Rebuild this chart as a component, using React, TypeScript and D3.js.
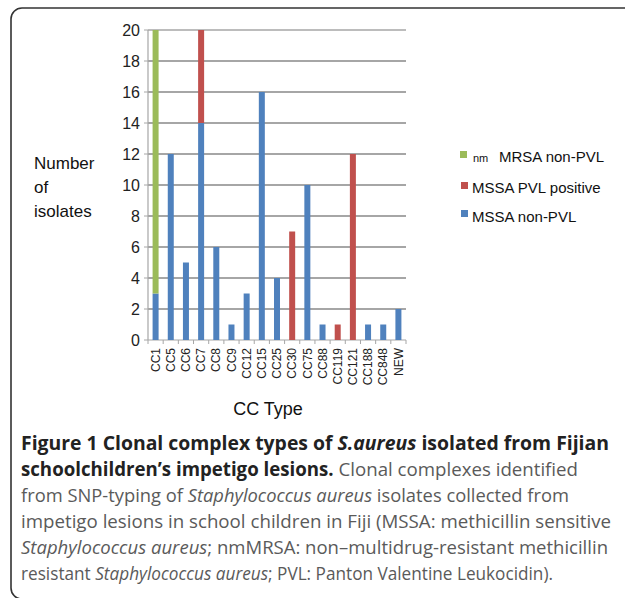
import React from 'react';
import * as d3 from 'd3';

const categories = ['CC1', 'CC5', 'CC6', 'CC7', 'CC8', 'CC9', 'CC12', 'CC15', 'CC25', 'CC30', 'CC75', 'CC88', 'CC119', 'CC121', 'CC188', 'CC848', 'NEW'];
const mssaNonPvl = [3, 12, 5, 14, 6, 1, 3, 16, 4, 0, 10, 1, 0, 0, 1, 1, 2];
const mssaPvlPositive = [0, 0, 0, 6, 0, 0, 0, 0, 0, 7, 0, 0, 1, 12, 0, 0, 0];
const nmMrsaNonPvl = [17, 0, 0, 0, 0, 0, 0, 0, 0, 0, 0, 0, 0, 0, 0, 0, 0];
const yTicks = [0, 2, 4, 6, 8, 10, 12, 14, 16, 18, 20];

const seriesKeys = ['mssa', 'pvl', 'mrsa'];
const colors = { mssa: '#4F81BD', pvl: '#C0504D', mrsa: '#9BBB59' };

const axisFont = '"Liberation Sans", Arial, sans-serif';
const capFont = '"Open Sans", "Noto Sans", sans-serif';

function App() {
  const left = 148, right = 406, top = 30, bottom = 340;

  const step = (right - left) / categories.length;
  const x0 = d3.scaleBand().domain(categories).range([left, right]);
  const y = d3.scaleLinear().domain([0, 20]).range([bottom, top]);

  const rows = categories.map((c, i) => ({ cat: c, mssa: mssaNonPvl[i], pvl: mssaPvlPositive[i], mrsa: nmMrsaNonPvl[i] }));
  const stacked = d3.stack().keys(seriesKeys)(rows as any);
  const bw = 6;

  const captionLines = [
    { y: 450, len: 588, parts: [{ t: 'Figure 1 Clonal complex types of ', b: true }, { t: 'S.aureus', b: true, i: true }, { t: ' isolated from Fijian', b: true }] },
    { y: 476, len: 557, parts: [{ t: 'schoolchildren\u2019s impetigo lesions.', b: true }, { t: ' Clonal complexes identified' }] },
    { y: 502, len: 548, parts: [{ t: 'from SNP-typing of ' }, { t: 'Staphylococcus aureus', i: true }, { t: ' isolates collected from' }] },
    { y: 528, len: 590, parts: [{ t: 'impetigo lesions in school children in Fiji (MSSA: methicillin sensitive' }] },
    { y: 554, len: 587, parts: [{ t: 'Staphylococcus aureus', i: true }, { t: '; nmMRSA: non\u2013multidrug-resistant methicillin' }] },
    { y: 580, len: 532, parts: [{ t: 'resistant ' }, { t: 'Staphylococcus aureus', i: true }, { t: '; PVL: Panton Valentine Leukocidin).' }] },
  ];

  return (
    <div style={{ position: 'absolute', left: 0, top: 0 }}>
      <svg width={625} height={598} style={{ display: 'block', background: '#fff' }}>
        {/* frame */}
        <rect x={11} y={8} width={700} height={591} rx={11} fill="none" stroke="#333" strokeWidth={1.6} />

        {/* gridlines */}
        {yTicks.filter((t) => t > 0).map((t) => (
          <line key={t} x1={left} x2={right} y1={y(t)} y2={y(t)} stroke={t === 20 ? '#a6a6a6' : '#888'} strokeWidth={1.5} />
        ))}
        <line x1={left} x2={left} y1={top} y2={bottom} stroke="#a6a6a6" strokeWidth={1.2} />
        <line x1={left} x2={right} y1={bottom} y2={bottom} stroke="#a6a6a6" strokeWidth={1.2} />
        {yTicks.map((t) => (
          <g key={t}>
            <line x1={left - 4} x2={left} y1={y(t)} y2={y(t)} stroke="#a6a6a6" />
            <text x={140} y={y(t)} dy="0.35em" textAnchor="end" fontFamily={axisFont} fontSize={16} fill="#222">{t}</text>
          </g>
        ))}
        {categories.map((c) => (
          <line key={c} x1={x0(c)! + step} x2={x0(c)! + step} y1={bottom} y2={bottom + 4} stroke="#a6a6a6" />
        ))}
        <line x1={left} x2={left} y1={bottom} y2={bottom + 4} stroke="#a6a6a6" />

        {/* bars */}
        {stacked.map((s: any) => (
          <g key={s.key} fill={(colors as any)[s.key]}>
            {s.map((d: any, i: number) => (d[1] - d[0] > 0 ? (
              <rect key={i} x={x0(categories[i])! + step / 2 - bw / 2} width={bw} y={y(d[1])} height={y(d[0]) - y(d[1])} />
            ) : null))}
          </g>
        ))}

        {/* x labels */}
        {categories.map((c) => (
          <text key={c} transform={`translate(${x0(c)! + step / 2},348) rotate(-90)`} dy="0.35em" textAnchor="end" fontFamily={axisFont} fontSize={12} fill="#222">{c}</text>
        ))}

        {/* axis titles */}
        <text fontFamily={axisFont} fontSize={17} fill="#111">
          <tspan x={34} y={169}>Number</tspan>
          <tspan x={34} y={193}>of</tspan>
          <tspan x={34} y={217}>isolates</tspan>
        </text>
        <text x={268} y={415} textAnchor="middle" fontFamily={axisFont} fontSize={18} fill="#111">CC Type</text>

        {/* legend */}
        <rect x={460} y={151} width={7} height={7} fill={colors.mrsa} />
        <text x={473} y={162} fontFamily={axisFont} fill="#111">
          <tspan fontSize={11}>nm</tspan>
          <tspan x={499} fontSize={15}>MRSA non-PVL</tspan>
        </text>
        <rect x={461} y={182} width={7} height={7} fill={colors.pvl} />
        <text x={472} y={193} fontFamily={axisFont} fontSize={15} fill="#111">MSSA PVL positive</text>
        <rect x={461} y={210} width={7} height={7} fill={colors.mssa} />
        <text x={472} y={222} fontFamily={axisFont} fontSize={15} fill="#111">MSSA non-PVL</text>

        {/* caption */}
        {captionLines.map((ln, k) => (
          <text key={k} x={21} y={ln.y} textLength={ln.len} lengthAdjust="spacingAndGlyphs" fontFamily={capFont} fontSize={19}>
            {ln.parts.map((p: any, j: number) => (
              <tspan key={j} fontWeight={p.b ? 700 : 400} fontStyle={p.i ? 'italic' : 'normal'} fill={p.b ? '#222' : '#5a5a5a'}>{p.t}</tspan>
            ))}
          </text>
        ))}
      </svg>
    </div>
  );
}

export default App;
